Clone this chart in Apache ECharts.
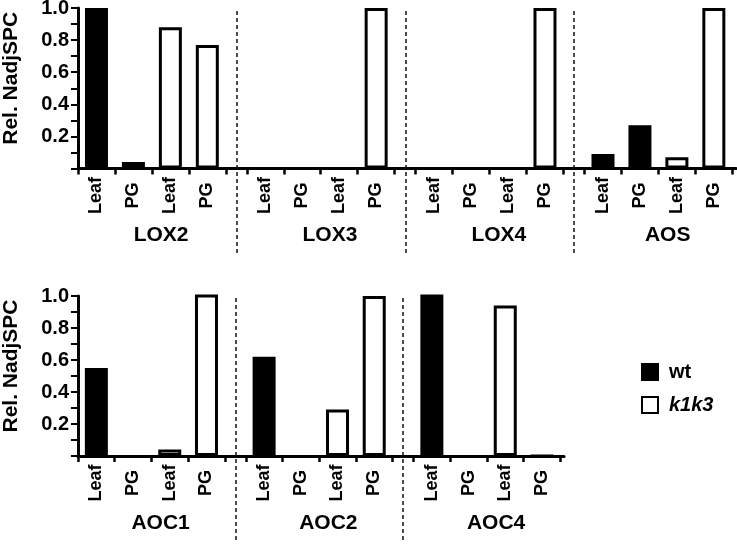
<!DOCTYPE html>
<html>
<head>
<meta charset="utf-8">
<script src="https://cdn.jsdelivr.net/npm/echarts@6/dist/echarts.min.js"></script>
<style>
  html, body { margin: 0; padding: 0; background: #fff; }
  #main { width: 737px; height: 544px; }
</style>
</head>
<body>
<div id="main"></div>
<script>
// data: values are [Leaf, PG] per gene
let slotLabels = ['Leaf', 'PG', 'Leaf', 'PG'];
let topGenes = ['LOX2', 'LOX3', 'LOX4', 'AOS'];
let topWt = [[1.0, 0.04], [0, 0], [0, 0], [0.09, 0.27]];
let topK1k3 = [[0.88, 0.77], [0, 1.0], [0, 1.0], [0.07, 1.0]];
let botGenes = ['AOC1', 'AOC2', 'AOC4'];
let botWt = [[0.55, 0], [0.62, 0], [1.01, 0]];
let botK1k3 = [[0.04, 1.01], [0.29, 1.0], [0.94, 0]];

let GAP = 0.57;          // gap between gene groups, in category units
let STEP = 4 + GAP;
let FONT = 'Liberation Sans, Arial, sans-serif';

function axisMax(n) { return n * STEP - GAP + 0.1; }
function pos(g, slot) { return g * STEP + slot + 0.5; }

function tickVals(n) {
    let out = [];
    for (let g = 0; g < n; g++) for (let i = 0; i <= 4; i++) out.push(g * STEP + i);
    return out;
}
function labelVals(n) {
    let out = [];
    for (let g = 0; g < n; g++) for (let i = 0; i < 4; i++) out.push(pos(g, i));
    return out;
}
function gapCenters(n) {
    let out = [];
    for (let g = 1; g < n; g++) out.push(g * STEP - GAP / 2);
    return out;
}
function groupCenters(n) {
    let out = [];
    for (let g = 0; g < n; g++) out.push(g * STEP + 2.25);
    return out;
}

// bar data: wt uses slots 0,1 ; k1k3 uses slots 2,3
function barData(vals, offset) {
    let out = [];
    vals.forEach(function(pair, g) {
        out.push([pos(g, offset), pair[0]]);
        out.push([pos(g, offset + 1), pair[1]]);
    });
    return out;
}

function catAxis(grid, n, genes) {
    return [{
        type: 'value', gridIndex: grid, position: 'bottom', min: 0, max: axisMax(n),
        splitLine: {show: false},
        axisLine: {show: true, onZero: false, lineStyle: {color: '#000', width: 3}},
        axisTick: {show: true, customValues: tickVals(n), length: 6, lineStyle: {color: '#000', width: 2.5}},
        axisLabel: {
            customValues: labelVals(n),
            formatter: function(v) { return slotLabels[Math.floor(v % STEP)]; },
            rotate: 90, align: 'center', verticalAlign: 'middle', margin: 27,
            fontSize: 18, fontWeight: 'bold', fontFamily: FONT, color: '#000'
        }
    }, {
        type: 'value', gridIndex: grid, position: 'bottom', offset: 0, min: 0, max: axisMax(n),
        splitLine: {show: false}, axisLine: {show: false, onZero: false}, axisTick: {show: false},
        axisLabel: {
            customValues: groupCenters(n),
            formatter: function(v) { return genes[Math.round((v - 2.25) / STEP)]; },
            verticalAlign: 'middle', margin: 67,
            fontSize: 21, fontWeight: 'bold', fontFamily: FONT, color: '#000'
        }
    }];
}

function valAxis(grid) {
    return {
        type: 'value', gridIndex: grid, min: 0, max: 1, interval: 0.2,
        name: 'Rel. NadjSPC', nameLocation: 'middle', nameRotate: 90, nameGap: 56, nameMoveOverlap: false,
        nameTextStyle: {fontSize: 21, fontWeight: 'bold', fontFamily: FONT, color: '#000', padding: [0, 0, 0, 20]},
        splitLine: {show: false},
        axisLine: {show: true, lineStyle: {color: '#000', width: 3}},
        axisTick: {show: true, length: 7, lineStyle: {color: '#000', width: 2}},
        minorTick: {show: true, splitNumber: 2, length: 7, lineStyle: {color: '#000', width: 2}},
        axisLabel: {
            margin: 9, fontSize: 20, fontWeight: 'bold', fontFamily: FONT, color: '#000',
            formatter: function(v) { return v === 0 ? '' : v.toFixed(1); }
        }
    };
}

function hiddenAxes(grid, max) {
    return {
        x: {type: 'value', gridIndex: grid, min: 0, max: max, show: false},
        y: {type: 'value', gridIndex: grid, min: 0, max: 1, show: false}
    };
}

let hTop = hiddenAxes(2, axisMax(4));
let hBot = hiddenAxes(3, axisMax(3));

let wtStyle = {color: '#000', borderColor: '#000', borderWidth: 2};
let k1Style = {color: '#fff', borderColor: '#000', borderWidth: 3};

function dashSeries(xi, yi, n) {
    return {
        type: 'scatter', xAxisIndex: xi, yAxisIndex: yi, data: [], silent: true,
        markLine: {
            silent: true, symbol: ['none', 'none'], label: {show: false},
            lineStyle: {color: '#111', width: 1.5, type: [4, 3]},
            data: gapCenters(n).map(function(v) { return {xAxis: v}; })
        }
    };
}

let chart = echarts.init(document.getElementById('main'));
chart.setOption({
    animation: false,
    backgroundColor: '#fff',
    grid: [
        {left: 78, top: 8, width: 658, height: 160.5, outerBoundsMode: 'none'},
        {left: 78, top: 296, width: 486, height: 160, outerBoundsMode: 'none'},
        {left: 78, top: 8, width: 658, height: 245, outerBoundsMode: 'none'},
        {left: 78, top: 296, width: 486, height: 244, outerBoundsMode: 'none'}
    ],
    xAxis: catAxis(0, 4, topGenes).concat(catAxis(1, 3, botGenes)).concat([hTop.x, hBot.x]),
    yAxis: [valAxis(0), valAxis(1), hTop.y, hBot.y],
    legend: {
        data: ['wt', 'k1k3'], orient: 'vertical', left: 641, top: 362, padding: 0,
        itemWidth: 16, itemHeight: 16, itemGap: 13, icon: 'rect',
        textStyle: {fontSize: 20, fontWeight: 'bold', fontFamily: FONT, color: '#000', padding: [0, 0, 0, 6],
            rich: {i: {fontSize: 20, fontWeight: 'bold', fontStyle: 'italic', fontFamily: FONT, color: '#000'}}},
        formatter: function(name) { return name === 'k1k3' ? '{i|k1k3}' : name; }
    },
    series: [
        {name: 'wt', type: 'bar', xAxisIndex: 0, yAxisIndex: 0, barWidth: 23, barGap: '-100%', clip: false,
            itemStyle: wtStyle, data: barData(topWt, 0)},
        {name: 'k1k3', type: 'bar', xAxisIndex: 0, yAxisIndex: 0, barWidth: 23, barGap: '-100%', clip: false,
            itemStyle: k1Style, data: barData(topK1k3, 2)},
        {name: 'wt', type: 'bar', xAxisIndex: 2, yAxisIndex: 1, barWidth: 23, barGap: '-100%', clip: false,
            itemStyle: wtStyle, data: barData(botWt, 0)},
        {name: 'k1k3', type: 'bar', xAxisIndex: 2, yAxisIndex: 1, barWidth: 23, barGap: '-100%', clip: false,
            itemStyle: k1Style, data: barData(botK1k3, 2)},
        dashSeries(4, 2, 4),
        dashSeries(5, 3, 3)
    ]
});
</script>
</body>
</html>
